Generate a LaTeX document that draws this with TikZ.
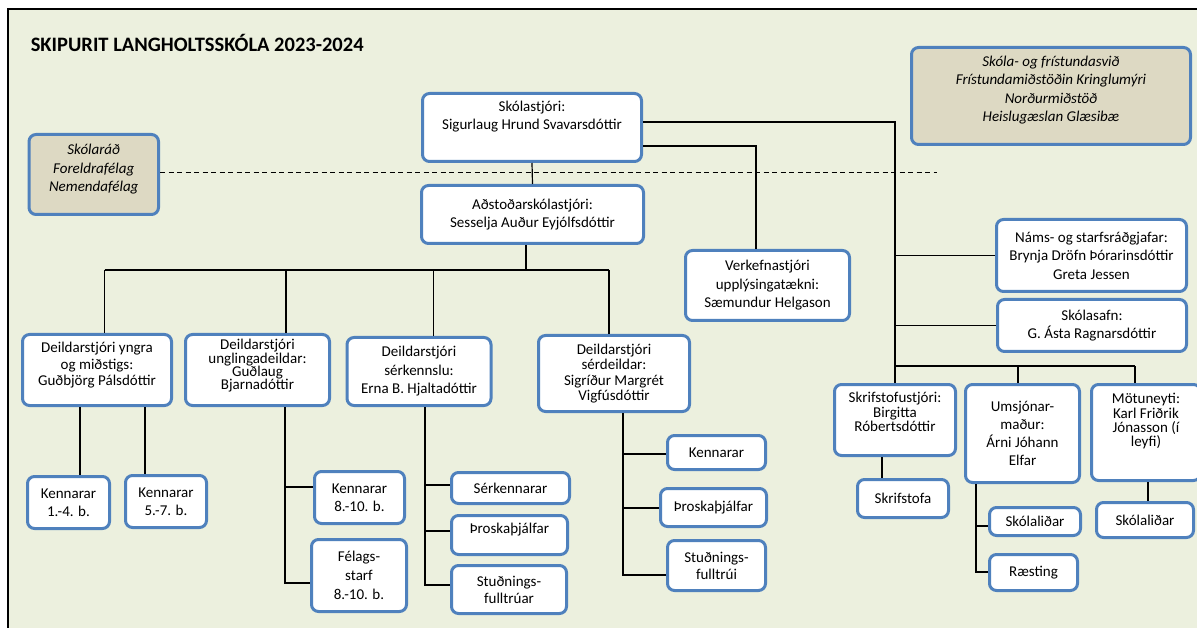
\documentclass[tikz,border=0pt]{standalone}
\usepackage{fontspec}
\setmainfont{Carlito}
\usepackage{tikz}
\definecolor{myblue}{RGB}{79,129,189}
\definecolor{mytan}{RGB}{221,217,195}
\definecolor{mybg}{RGB}{236,240,222}
\newcommand{\upby}[1]{\\[#1]\mbox{}}

\begin{document}
\begin{tikzpicture}[x=1pt,y=-1pt,
    box/.style={draw=myblue, line width=3pt, rounded corners=7pt, fill=white, align=center, inner sep=1pt, font=\fontsize{15}{#1}\selectfont},
    box/.default=18,
    tanbox/.style={box=18.5, fill=mytan, font=\fontsize{15}{18.5}\selectfont\itshape},
    wire/.style={line width=1.2pt}]
    \useasboundingbox (0,0) rectangle (1197,628);
    % basics
    \fill[mybg] (8,9) rectangle (1197,628);
    \draw[line width=2.5pt] (8,628) -- (8,9) -- (1197,9);
    \node[anchor=west, inner sep=0, font=\fontsize{20.5}{24}\selectfont\bfseries] (title) at (30.6,43) {SKIPURIT LANGHOLTSSKÓLA 2023-2024};

    % top
    \node[box, minimum width=219, minimum height=68] (skol) at (532,127.5) {Skólastjóri:\\Sigurlaug Hrund Svavarsdóttir\upby{6pt}};
    \node[box, minimum width=222, minimum height=58] (ad) at (532.5,214.5) {Aðstoðarskólastjóri:\\Sesselja Auður Eyjólfsdóttir};
    \node[tanbox, minimum width=129.5, minimum height=80] (rad) at (93.75,174.5) {Skólaráð\\Foreldrafélag\\Nemendafélag\upby{-5.5pt}};
    \node[tanbox, minimum width=279, minimum height=97] (svid) at (1051,96) {Skóla- og frístundasvið\\Frístundamiðstöðin Kringlumýri\\Norðurmiðstöð\\Heislugæslan Glæsibæ\upby{-4.5pt}};
    \node[box=18.5, minimum width=164, minimum height=70] (verk) at (767.5,285.5) {Verkefnastjóri\\upplýsingatækni:\\Sæmundur Helgason};
    \node[box=18.5, minimum width=190, minimum height=72] (nams) at (1091.5,255.5) {Náms- og starfsráðgjafar:\\Brynja Dröfn Þórarinsdóttir\\Greta Jessen};
    \node[box, minimum width=189, minimum height=52] (safn) at (1092,325.5) {Skólasafn:\\G. Ásta Ragnarsdóttir};

    % deildarstjorar
    \node[box=16.5, minimum width=149, minimum height=71] (yngri) at (97,370) {Deildarstjóri yngra\\og miðstigs:\\Guðbjörg Pálsdóttir\upby{-4.5pt}};
    \node[box=13.3, minimum width=144, minimum height=71] (ungl) at (257.5,370) {Deildarstjóri\\unglingadeildar:\\Guðlaug\\Bjarnadóttir\upby{-2.3pt}};
    \node[box=18.5, minimum width=144, minimum height=68] (serk) at (419,371.5) {Deildarstjóri\\sérkennslu:\\Erna B. Hjaltadóttir};
    \node[box=15.3, minimum width=151, minimum height=76] (serd) at (614,373.5) {Deildarstjóri\\sérdeildar:\\Sigríður Margrét\\Vigfúsdóttir};

    % starfsfolk
    \node[box, minimum width=82, minimum height=52] (k14) at (68.5,502.5) {Kennarar\\1.-4. b.};
    \node[box, minimum width=81, minimum height=52] (k57) at (166,501.5) {Kennarar\\5.-7. b.};
    \node[box, minimum width=90, minimum height=52] (k810) at (359.5,497.5) {Kennarar\\8.-10. b.};
    \node[box=19, minimum width=95, minimum height=72] (fel) at (359,575.5) {Félags-\\starf\\8.-10. b.};
    \node[box, minimum width=118, minimum height=31] (serkenn) at (510.5,488) {Sérkennarar};
    \node[box, minimum width=116, minimum height=39] (throsk1) at (509.5,535) {Þroskaþjálfar\upby{-5pt}};
    \node[box=17, minimum width=115, minimum height=48] (stud1) at (509,589.5) {Stuðnings-\\fulltrúar};
    \node[box, minimum width=98, minimum height=34] (kenn) at (716.5,452.5) {Kennarar};
    \node[box, minimum width=106, minimum height=38] (throsk2) at (713.5,507.5) {Þroskaþjálfar};
    \node[box=17, minimum width=98, minimum height=50] (stud2) at (716.5,565.5) {Stuðnings-\\fulltrúi};

    % right side
    \node[box=14.5, minimum width=121, minimum height=71] (skr) at (895,420) {Skrifstofustjóri:\\Birgitta\\Róbertsdóttir\upby{1.5pt}};
    \node[box, minimum width=114, minimum height=98] (ums) at (1022.5,433.5) {Umsjónar-\\maður:\\Árni Jóhann\\Elfar};
    \node[box=14.3, minimum width=109, minimum height=96] (mot) at (1146,432.5) {Mötuneyti:\\Karl Friðrik\\Jónasson (í\\leyfi)\upby{10.7pt}};
    \node[box, minimum width=91, minimum height=38] (skrst) at (903,498.5) {Skrifstofa};
    \node[box, minimum width=91, minimum height=28] (skl1) at (1035,521.5) {Skólaliðar};
    \node[box, minimum width=88, minimum height=36] (raes) at (1033.5,572.5) {Ræsting};
    \node[box, minimum width=97, minimum height=35] (skl2) at (1145,520) {Skólaliðar};

    % lines
    \coordinate (dashend) at (937,173);
    \draw[line width=1pt, dash pattern=on 5pt off 3.5pt] (rad.east |- dashend) -- (dashend);
    \draw[wire] (skol.south) -- (ad.north);
    \coordinate (bus) at (526,270);
    \draw[wire] (ad.south -| bus) -- (bus);
    \draw[wire] (104.5,270) -- (609,270);
    \foreach \x/\n in {104.5/yngri, 286/ungl, 433.6/serk, 609/serd}
        \draw[wire] (\x,270) -- (\x,270 |- \n.north);

    \coordinate (spine) at (895,122);
    \coordinate (spinebot) at (895,366);
    \draw[wire] (skol.east |- spine) -- (spine) -- (spinebot) -- (1135,366);
    \draw[wire] (spine |- nams.west) -- (nams.west);
    \draw[wire] (spine |- safn.west) -- (safn.west);
    \foreach \x/\n in {895/skr, 1018/ums, 1135/mot}
        \draw[wire] (\x,366) -- (\x,366 |- \n.north);
    \coordinate (vk) at (756,146);
    \draw[wire] (skol.east |- vk) -- (vk) -- (vk |- verk.north);

    \draw[wire] (80,0 |- yngri.south) -- (80,0 |- k14.north);
    \draw[wire] (145,0 |- yngri.south) -- (145,0 |- k57.north);

    \coordinate (ug) at (285,583);
    \draw[wire] (ug |- ungl.south) -- (ug) -- (ug -| fel.west);
    \draw[wire] (285,487) -- (285,487 -| k810.west);

    \coordinate (sk) at (425,585);
    \draw[wire] (sk |- serk.south) -- (sk) -- (sk -| stud1.west);
    \draw[wire] (425,485) -- (425,485 -| serkenn.west);
    \draw[wire] (425,531) -- (425,531 -| throsk1.west);

    \coordinate (sd) at (623,575);
    \draw[wire] (sd |- serd.south) -- (sd) -- (sd -| stud2.west);
    \draw[wire] (623,454) -- (623,454 -| kenn.west);
    \draw[wire] (623,508) -- (623,508 -| throsk2.west);

    \draw[wire] (882,0 |- skr.south) -- (882,0 |- skrst.north);
    \coordinate (um) at (976,572);
    \draw[wire] (um |- ums.south) -- (um) -- (um -| raes.west);
    \draw[wire] (976,526) -- (976,526 -| skl1.west);
    \draw[wire] (1148,0 |- mot.south) -- (1148,0 |- skl2.north);
\end{tikzpicture}
\end{document}
